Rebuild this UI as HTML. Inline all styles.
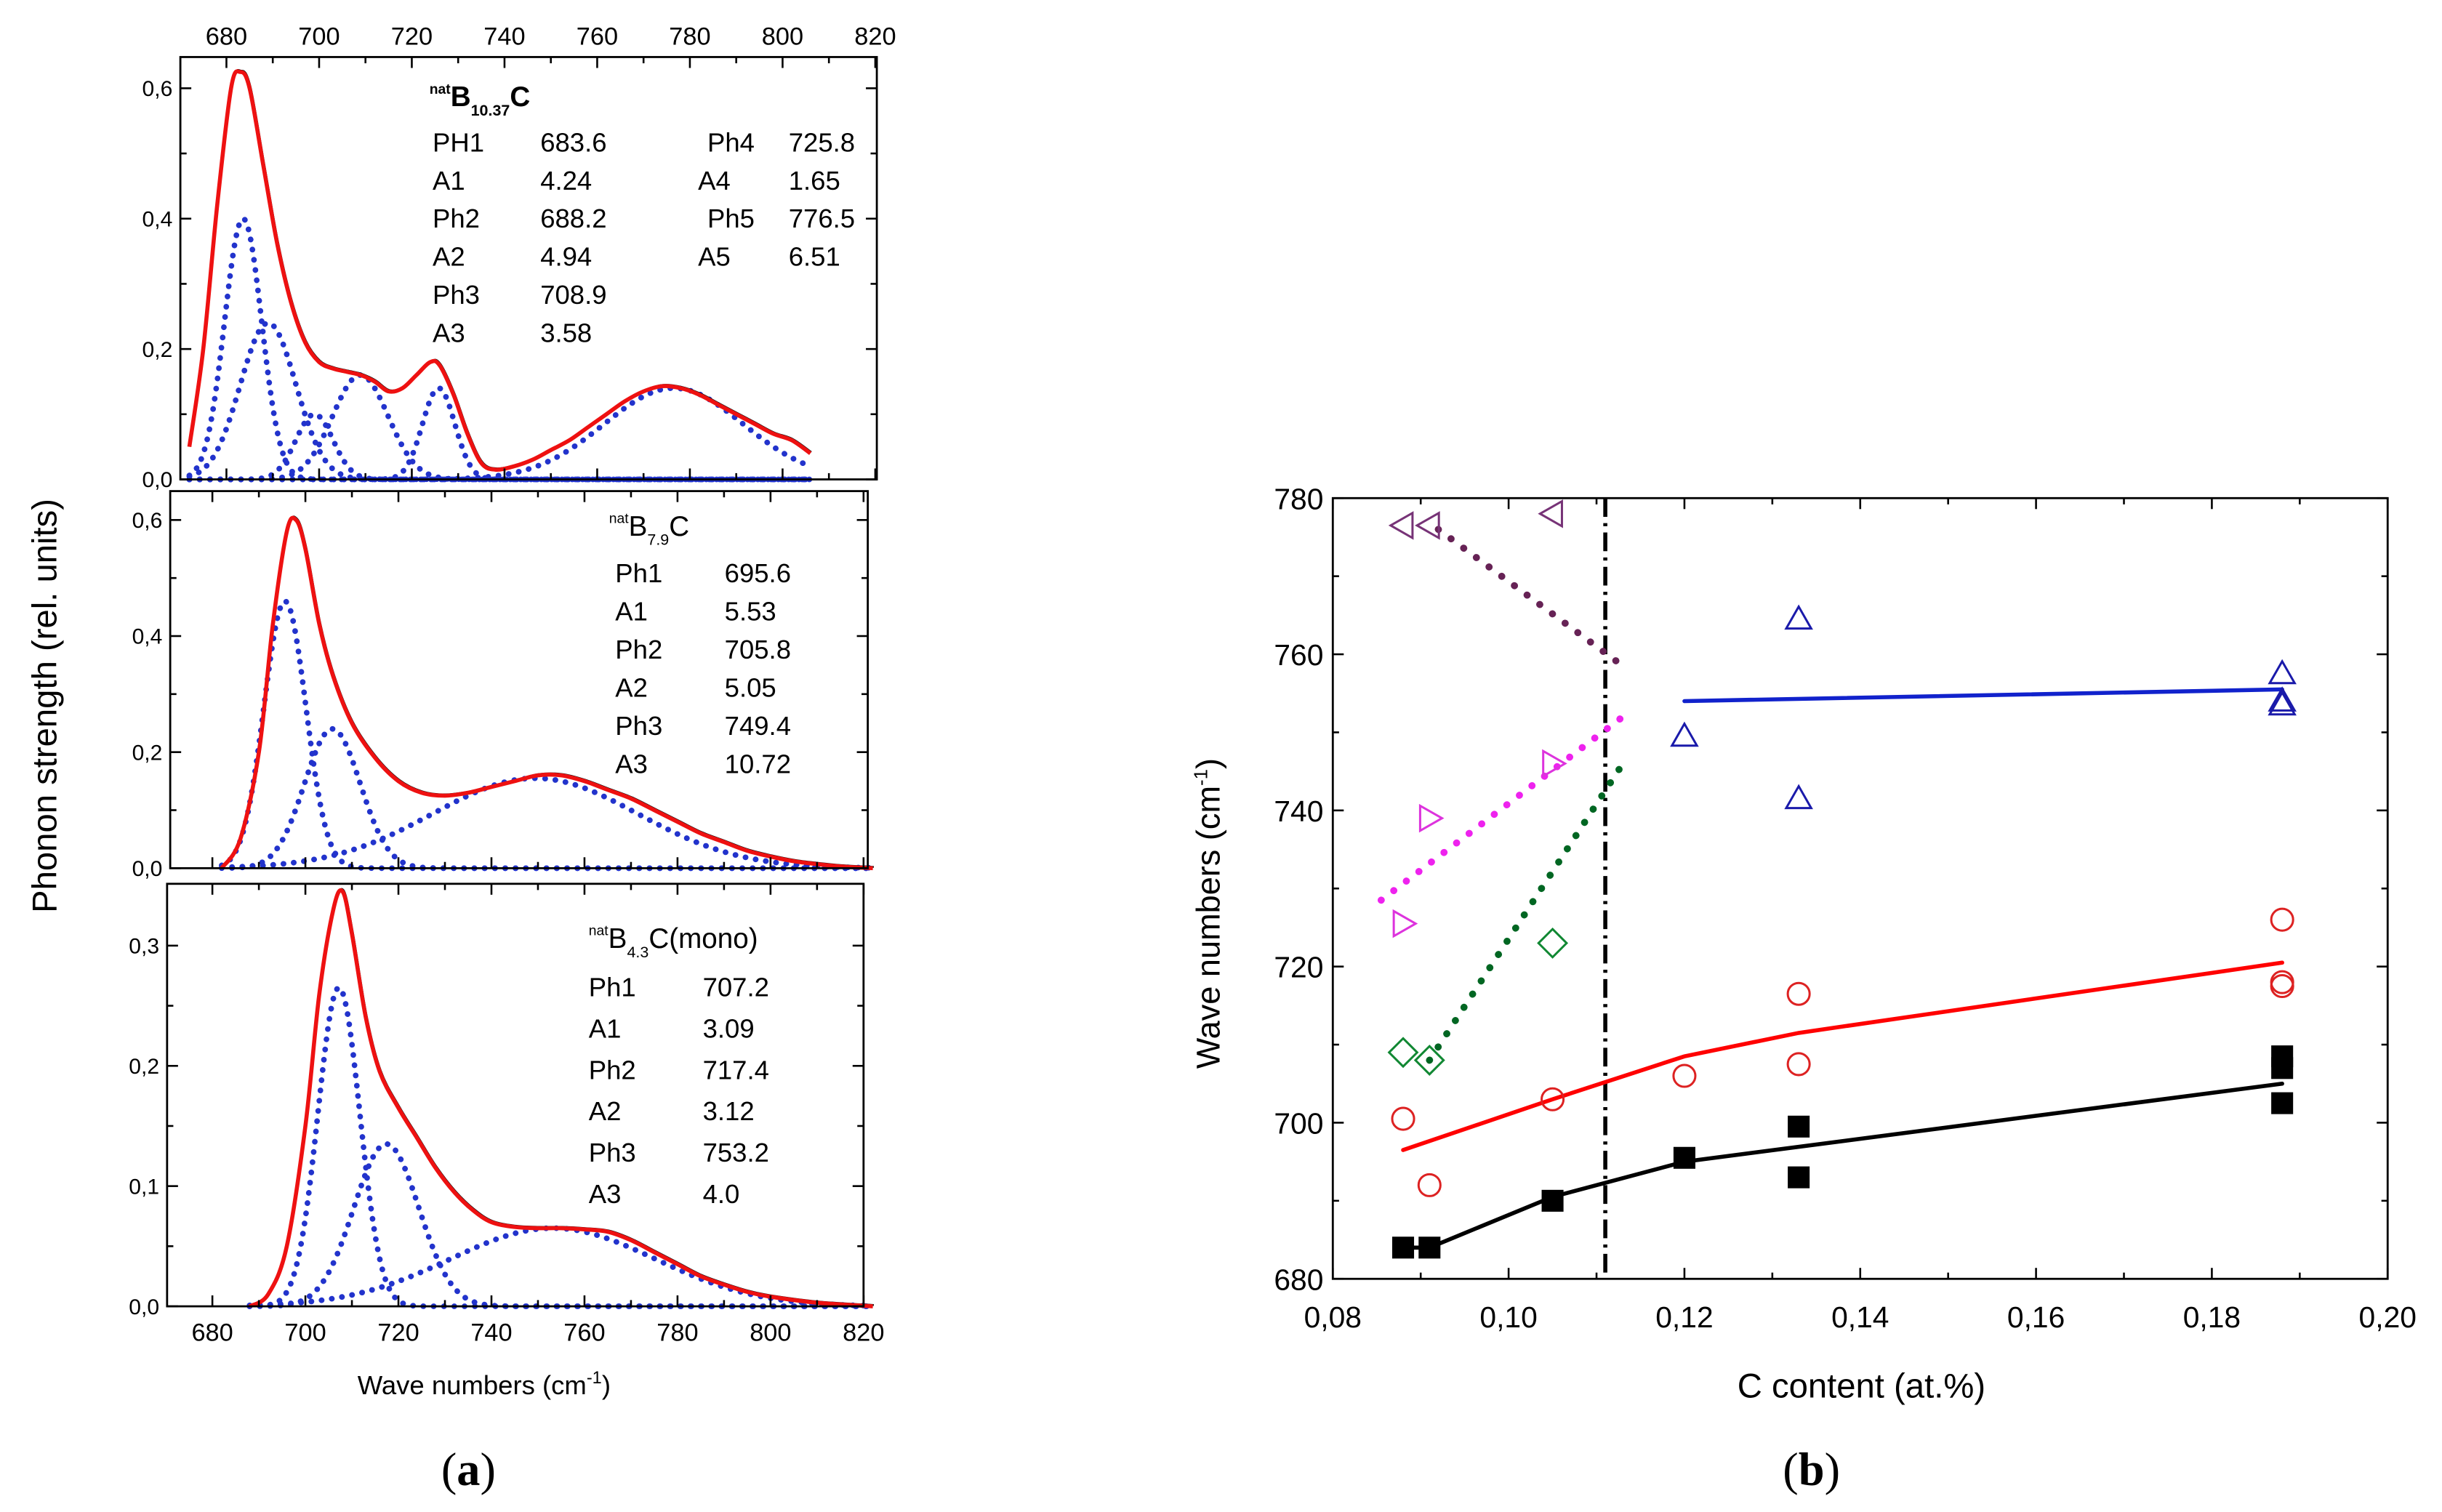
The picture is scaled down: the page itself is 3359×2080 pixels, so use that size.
<!DOCTYPE html>
<html><head><meta charset="utf-8"><style>
html,body{margin:0;padding:0;background:#fff;}
svg{display:block;font-family:"Liberation Sans",sans-serif;}
</style></head><body>
<svg id="fig" xmlns="http://www.w3.org/2000/svg" width="3359" height="2080" viewBox="0 0 1563.8 968.3">
<rect width="1563.8" height="968.3" fill="#fff"/>
<g id="pa"></g>
<g id="pb"></g>
<text transform="translate(36,452) rotate(-90)" text-anchor="middle" font-size="22">Phonon strength (rel. units)</text>
<text x="310" y="893" text-anchor="middle" font-size="17">Wave numbers (cm<tspan dy="-7" font-size="11">-1</tspan><tspan dy="7">)</tspan></text>
<text x="300" y="951" text-anchor="middle" font-size="30" font-family="Liberation Serif, serif">(<tspan font-weight="bold">a</tspan>)</text>
<text transform="translate(781,585) rotate(-90)" text-anchor="middle" font-size="21">Wave numbers (cm<tspan dy="-8" font-size="12">-1</tspan><tspan dy="8">)</tspan></text>
<text x="1192" y="895" text-anchor="middle" font-size="22">C content (at.%)</text>
<text x="1160" y="951" text-anchor="middle" font-size="30" font-family="Liberation Serif, serif">(<tspan font-weight="bold">b</tspan>)</text>
</svg>
<script>
// ---------- Panel (a) data ----------
const topX=[672,675,678,681,683,685,688,691,694,697,700,703,706,709,712,715,718,721,724,726,729,732,735,738,742,746,750,754,758,762,766,770,774,778,782,786,790,794,798,802,806];
const topY=[0.05,0.2,0.42,0.6,0.625,0.6,0.48,0.36,0.27,0.21,0.18,0.17,0.165,0.16,0.15,0.135,0.14,0.16,0.18,0.175,0.13,0.07,0.025,0.015,0.02,0.03,0.045,0.06,0.08,0.1,0.12,0.135,0.143,0.14,0.13,0.115,0.1,0.085,0.07,0.06,0.04];
const topPeakC=[683.6,689,699,708.9,725.8,776.5];
const topPeakH=[0.40,0.24,0.10,0.16,0.14,0.14];
const topPeakW=[4,6,4,6,3.5,15];
const midX=[682,686,690,693,696,698,700,703,706,710,715,720,725,730,735,740,745,750,755,760,765,770,775,780,785,790,795,800,805,810,815,822];
const midY=[0.0,0.05,0.2,0.42,0.58,0.6,0.55,0.42,0.33,0.25,0.19,0.15,0.13,0.125,0.13,0.14,0.15,0.16,0.16,0.15,0.135,0.12,0.1,0.08,0.06,0.045,0.03,0.02,0.012,0.007,0.003,0.0];
const midPeakC=[695.6,705.8,749.4];
const midPeakH=[0.46,0.24,0.155];
const midPeakW=[4.5,6,22];
const botX=[688,692,696,700,703,706,708,710,713,716,720,724,728,732,736,740,745,750,755,760,765,770,775,780,785,790,795,800,810,822];
const botY=[0.0,0.01,0.05,0.15,0.26,0.33,0.345,0.31,0.24,0.195,0.165,0.14,0.115,0.095,0.08,0.07,0.066,0.065,0.065,0.064,0.062,0.055,0.045,0.035,0.025,0.018,0.012,0.008,0.003,0.0];
const botPeakC=[707.2,717.4,753.2];
const botPeakH=[0.265,0.135,0.065];
const botPeakW=[4.5,7,22];
const aXTicks=[680,700,720,740,760,780,800,820];

// ---------- Panel (b) data ----------
const bXTicks=[0.08,0.10,0.12,0.14,0.16,0.18,0.20];
const bXLabels=["0,08","0,10","0,12","0,14","0,16","0,18","0,20"];
const bYTicks=[680,700,720,740,760,780];
const sqX=[0.088,0.091,0.105,0.12,0.133,0.133,0.188,0.188,0.188];
const sqY=[684,684,690,695.5,699.5,693,708.5,707,702.5];
const blackLineX=[0.088,0.091,0.105,0.12,0.188];
const blackLineY=[684,684,690.5,695,705];
const circX=[0.088,0.091,0.105,0.12,0.133,0.133,0.188,0.188,0.188];
const circY=[700.5,692,703,706,716.5,707.5,726,718,717.5];
const redLineX=[0.088,0.105,0.12,0.133,0.188];
const redLineY=[696.5,703,708.5,711.5,720.5];
const triX=[0.12,0.133,0.133,0.188,0.188,0.188];
const triY=[749.5,764.5,741.5,757.5,754,753.5];
const blueLineX=[0.12,0.188];
const blueLineY=[754,755.5];
const diaX=[0.088,0.091,0.105];
const diaY=[709,708,723];
const greenLineX=[0.091,0.113];
const greenLineY=[708,746];
const rtriX=[0.088,0.091,0.105];
const rtriY=[725.5,739,746];
const magLineX=[0.0855,0.113];
const magLineY=[728.5,752];
const ltriX=[0.088,0.091,0.105];
const ltriY=[776.5,776.5,778];
const purLineX=[0.092,0.113];
const purLineY=[776,758.5];
const vLineX=0.111;

const NS="http://www.w3.org/2000/svg";
function mk(parent,tag,attrs){const e=document.createElementNS(NS,tag);for(const k in attrs)e.setAttribute(k,attrs[k]);parent.appendChild(e);return e;}
function smooth(pts){let d="M"+pts[0][0]+","+pts[0][1];for(let i=0;i<pts.length-1;i++){const p0=pts[i-1]||pts[i],p1=pts[i],p2=pts[i+1],p3=pts[i+2]||p2;
d+=" C"+(p1[0]+(p2[0]-p0[0])/6)+","+(p1[1]+(p2[1]-p0[1])/6)+" "+(p2[0]-(p3[0]-p1[0])/6)+","+(p2[1]-(p3[1]-p1[1])/6)+" "+p2[0]+","+p2[1];}return d;}

const pa=document.getElementById('pa');
function spectrum(cfg){
  const g=mk(pa,'g',{});
  
  
  const X=v=>cfg.x0+(v-680)*cfg.kx, Y=v=>cfg.y0-v*cfg.ky;
  cfg.pc.forEach((c,i)=>{
    const pts=[];for(let v=cfg.xs[0];v<=cfg.xs[cfg.xs.length-1];v+=1){pts.push([X(v),Y(cfg.ph[i]*Math.exp(-0.5*((v-c)/cfg.pw[i])**2))]);}
    const p=mk(g,'path',{d:smooth(pts),fill:'none',stroke:'#2233cc','stroke-width':3.6,'stroke-dasharray':'0.1 6.5','stroke-linecap':'round'});
    
    
  });
  const pts=cfg.xs.map((v,i)=>[X(v),Y(cfg.ys[i])]);
  const b=mk(g,'path',{d:smooth(pts.map(p=>[p[0]+0.6,p[1]-0.8])),fill:'none',stroke:'#111','stroke-width':1.2});
  
  
  const r=mk(g,'path',{d:smooth(pts),fill:'none',stroke:'#ee1111','stroke-width':2.6});
  
  
  const f=mk(g,'rect',{x:cfg.fl,y:cfg.ft,width:cfg.fr-cfg.fl,height:cfg.y0-cfg.ft,fill:'none',stroke:'#000','stroke-width':1.3});
  
  
  for(let v=670;v<=820;v+=10){const x=X(v);if(x<cfg.fl||x>cfg.fr+1)continue;const L=(v%20===0)?7:4;
    mk(g,'line',{x1:x,x2:x,y1:cfg.y0,y2:cfg.y0-L,stroke:'#000','stroke-width':1.2});
    mk(g,'line',{x1:x,x2:x,y1:cfg.ft,y2:cfg.ft+L,stroke:'#000','stroke-width':1.2});}
  for(let k=0;k<=cfg.ymax/cfg.minor+0.01;k++){const v=k*cfg.minor;const y=Y(v);if(y<cfg.ft)continue;const major=k%2===0;const L=major?7:4;
    mk(g,'line',{x1:cfg.fl,x2:cfg.fl+L,y1:y,y2:y,stroke:'#000','stroke-width':1.2});
    mk(g,'line',{x1:cfg.fr,x2:cfg.fr-L,y1:y,y2:y,stroke:'#000','stroke-width':1.2});
    if(major){const t=mk(g,'text',{x:cfg.fl-5,y:y+5,'text-anchor':'end','font-size':14});t.textContent=v.toFixed(1).replace('.',',');
      
      }}
  if(cfg.topLabels||cfg.botLabels){aXTicks.forEach(v=>{const x=X(v);
    const t=mk(g,'text',{x:x,y:cfg.topLabels?cfg.ft-8:cfg.y0+22,'text-anchor':'middle','font-size':16});t.textContent=v;
    
    });}
  const tt=mk(g,'text',{x:cfg.tx,y:cfg.ty,'font-size':cfg.tfs,'font-weight':cfg.tb?'bold':'normal'});
  
  
  tt.innerHTML='<tspan dy="-8" font-size="9">nat</tspan><tspan dy="8">B</tspan><tspan dy="6" font-size="10">'+cfg.sub+'</tspan><tspan dy="-6">'+cfg.suffix+'</tspan>';
  cfg.rows.forEach((r,i)=>{r.forEach((c,j)=>{const t=mk(g,'text',{x:c[0],y:cfg.ry+i*cfg.rs,'font-size':17});t.textContent=c[1];
    
    });});
}
spectrum({name:'spectrum-b10-37c',x0:145,kx:(560.5-145)/140,y0:307,ky:(307-56.5)/0.6,ft:36.5,fl:115.5,fr:561.5,ymax:0.6,minor:0.1,
  xs:topX,ys:topY,pc:topPeakC,ph:topPeakH,pw:topPeakW,topLabels:true,tx:275,ty:68,tfs:18,tb:true,sub:'10.37',suffix:'C',
  ry:97,rs:24.4,rows:[[[277,'PH1'],[346,'683.6'],[453,'Ph4'],[505,'725.8']],[[277,'A1'],[346,'4.24'],[447,'A4'],[505,'1.65']],[[277,'Ph2'],[346,'688.2'],[453,'Ph5'],[505,'776.5']],[[277,'A2'],[346,'4.94'],[447,'A5'],[505,'6.51']],[[277,'Ph3'],[346,'708.9']],[[277,'A3'],[346,'3.58']]]});
spectrum({name:'spectrum-b7-9c',x0:136,kx:(553-136)/140,y0:556,ky:(556-333)/0.6,ft:314.5,fl:109,fr:555.7,ymax:0.6,minor:0.1,
  xs:midX,ys:midY,pc:midPeakC,ph:midPeakH,pw:midPeakW,tx:390,ty:343,tfs:18,tb:false,sub:'7.9',suffix:'C',
  ry:373,rs:24.4,rows:[[[394,'Ph1'],[464,'695.6']],[[394,'A1'],[464,'5.53']],[[394,'Ph2'],[464,'705.8']],[[394,'A2'],[464,'5.05']],[[394,'Ph3'],[464,'749.4']],[[394,'A3'],[464,'10.72']]]});
spectrum({name:'spectrum-b4-3c-mono',x0:136,kx:(553-136)/140,y0:836.6,ky:770,ft:566,fl:107,fr:553,ymax:0.3,minor:0.05,
  xs:botX,ys:botY,pc:botPeakC,ph:botPeakH,pw:botPeakW,botLabels:true,tx:377,ty:607,tfs:18,tb:false,sub:'4.3',suffix:'C(mono)',
  ry:638,rs:26.5,rows:[[[377,'Ph1'],[450,'707.2']],[[377,'A1'],[450,'3.09']],[[377,'Ph2'],[450,'717.4']],[[377,'A2'],[450,'3.12']],[[377,'Ph3'],[450,'753.2']],[[377,'A3'],[450,'4.0']]]});

// ---------- Panel (b) ----------
const pb=document.getElementById('pb');
const L=853.5,R=1529,T=319,B=819;
const bx=v=>L+(v-0.08)/0.12*(R-L), by=v=>B-(v-680)/100*(B-T);
const frame=mk(pb,'rect',{x:L,y:T,width:R-L,height:B-T,fill:'none',stroke:'#000','stroke-width':1.3});


for(let k=0;k<=12;k++){const v=0.08+k*0.01;const x=bx(v);const len=k%2===0?7:4;
  mk(pb,'line',{x1:x,x2:x,y1:B,y2:B-len,stroke:'#000','stroke-width':1.2});
  mk(pb,'line',{x1:x,x2:x,y1:T,y2:T+len,stroke:'#000','stroke-width':1.2});}
bXTicks.forEach((v,i)=>{const t=mk(pb,'text',{x:bx(v),y:B+31,'text-anchor':'middle','font-size':19});t.textContent=bXLabels[i];
  
  });
for(let k=0;k<=10;k++){const v=680+k*10;const y=by(v);const len=k%2===0?7:4;
  mk(pb,'line',{x1:L,x2:L+len,y1:y,y2:y,stroke:'#000','stroke-width':1.2});
  mk(pb,'line',{x1:R,x2:R-len,y1:y,y2:y,stroke:'#000','stroke-width':1.2});}
bYTicks.forEach(v=>{const t=mk(pb,'text',{x:L-6,y:by(v)+7,'text-anchor':'end','font-size':19});t.textContent=v;
  
  });
function line(xs,ys,color,name,dotted){const p=mk(pb,'polyline',{points:xs.map((v,i)=>bx(v)+','+by(ys[i])).join(' '),fill:'none',stroke:color,'stroke-width':dotted?4.5:2.6,'stroke-linecap':'round','stroke-dasharray':dotted?'0.1 10':'none'});
  
  }
const vl=mk(pb,'line',{x1:bx(vLineX),x2:bx(vLineX),y1:T,y2:B,stroke:'#000','stroke-width':2.6,'stroke-dasharray':'12 4 2 4'});


line(blackLineX,blackLineY,'#000','black-fit-line');
line(redLineX,redLineY,'#f00','red-fit-line');
line(blueLineX,blueLineY,'#1122cc','blue-fit-line');
line(greenLineX,greenLineY,'#006622','green-dotted-trend',true);
line(magLineX,magLineY,'#ee22ee','magenta-dotted-trend',true);
line(purLineX,purLineY,'#662255','purple-dotted-trend',true);
function markers(xs,ys,kind,color,name){xs.forEach((v,i)=>{const x=bx(v),y=by(ys[i]);let e;
  if(kind==='sq')e=mk(pb,'rect',{x:x-7,y:y-7,width:14,height:14,fill:'#000'});
  else if(kind==='circ')e=mk(pb,'circle',{cx:x,cy:y,r:7,fill:'none',stroke:color,'stroke-width':1.4});
  else if(kind==='tri')e=mk(pb,'polygon',{points:`${x},${y-8} ${x-8},${y+6} ${x+8},${y+6}`,fill:'none',stroke:color,'stroke-width':1.4});
  else if(kind==='dia')e=mk(pb,'polygon',{points:`${x},${y-9} ${x+9},${y} ${x},${y+9} ${x-9},${y}`,fill:'none',stroke:color,'stroke-width':1.4});
  else if(kind==='rtri')e=mk(pb,'polygon',{points:`${x+8},${y} ${x-6},${y-8} ${x-6},${y+8}`,fill:'none',stroke:color,'stroke-width':1.4});
  else e=mk(pb,'polygon',{points:`${x-8},${y} ${x+6},${y-8} ${x+6},${y+8}`,fill:'none',stroke:color,'stroke-width':1.4});
  
  });}
markers(sqX,sqY,'sq','#000','black-square-point');
markers(circX,circY,'circ','#dd2222','red-circle-point');
markers(triX,triY,'tri','#1a1aaa','blue-triangle-point');
markers(diaX,diaY,'dia','#118833','green-diamond-point');
markers(rtriX,rtriY,'rtri','#dd33dd','magenta-triangle-point');
markers(ltriX,ltriY,'ltri','#773377','purple-triangle-point');
</script>
</body></html>
